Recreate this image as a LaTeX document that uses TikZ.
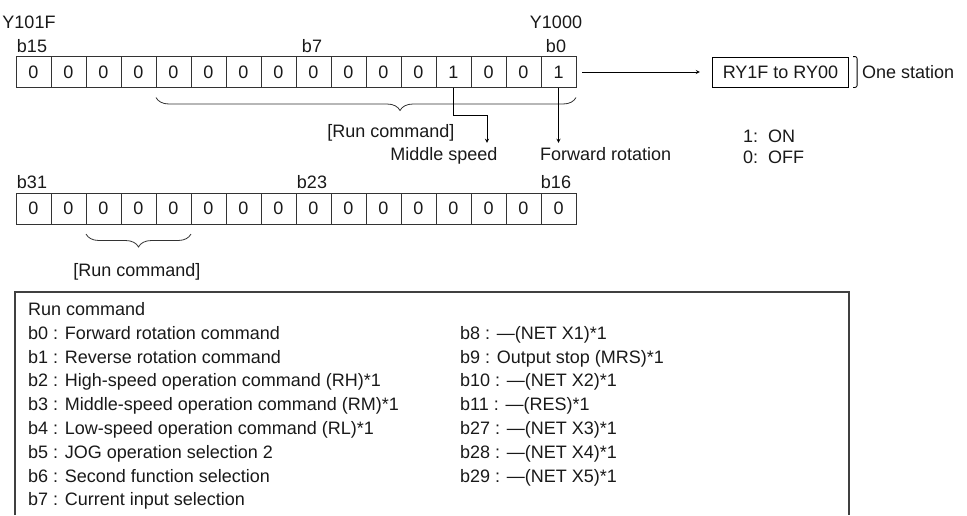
\documentclass[tikz,border=0pt]{standalone}
\usepackage{fontspec}
\setmainfont{Liberation Sans}
\usetikzlibrary{decorations.pathreplacing}
\tikzset{>=stealth,
  cell/.style={draw=black!80, line width=0.8pt, minimum width=35pt, minimum height=31pt, inner sep=0pt, outer sep=0pt},
  lbl/.style={inner sep=0pt, anchor=base},
  brc/.style={decorate, line width=0.8pt, draw=black!80}}

\begin{document}
\begin{tikzpicture}[x=1pt,y=-1pt,font=\fontsize{18}{22}\selectfont,text=black!90]
\useasboundingbox (0,0) rectangle (967,515);
\foreach \v [count=\i from 0] in {0,0,0,0,0,0,0,0,0,0,0,0,1,0,0,1}
  \node[cell] (t\i) at (33.5+35*\i,72) {\v};
\foreach \i in {0,...,15}
  \node[cell] (u\i) at (33.5+35*\i,208.5) {0};
\node[lbl] (yhi) at (29,28) {Y101F};
\node[lbl] (ylo) at (556,28) {Y1000};
\node[lbl] (b15) at (32,52) {b15};
\node[lbl] (b7) at (312,52) {b7};
\node[lbl] (b0) at (556,52) {b0};
\node[lbl] (b31) at (32,188) {b31};
\node[lbl] (b23) at (312,188) {b23};
\node[lbl] (b16) at (556,188) {b16};
\draw[brc, decoration={brace, mirror, amplitude=13pt, aspect=0.581}] ([yshift=-10pt]t4.south west) -- ([yshift=-10pt]t15.south east);
\draw[brc, decoration={brace, mirror, amplitude=13pt}] ([yshift=-10pt]u2.south west) -- ([yshift=-10pt]u4.south east);
\node[lbl] (runhi) at (391,137) {[Run command]};
\node[lbl] (runlo) at (137,276) {[Run command]};
\node[lbl] (ms) at (444,160) {Middle speed};
\node[lbl, anchor=base west] (fr) at (540,160) {Forward rotation};
\coordinate (mk) at (487,115);
\draw[->, line width=0.8pt] (t12.south) |- (mk) -- ([yshift=4pt]ms.north -| mk);
\draw[->, line width=0.8pt] (t15.south) -- ([yshift=4pt]fr.north -| t15.south);
\node[draw, line width=0.8pt, inner sep=0pt, inner xsep=10.5pt, minimum height=30pt] (ry) at (780.5,72) {RY1F to RY00};
\draw[->, line width=0.8pt] ([xshift=6pt]t15.east) -- ([xshift=-12pt]ry.west);
\draw[line width=0.8pt, rounded corners=2pt] ([xshift=4pt]ry.north east) -| ([xshift=8pt]ry.south east) -- ([xshift=4pt]ry.south east);
\node[lbl, anchor=base west] (one) at (862,78.5) {One station};
\node[lbl, anchor=base west] (on) at (743,142) {1:~~ON};
\node[lbl, anchor=base west] (off) at (743,163) {0:~~OFF};
\draw[line width=1.2pt, draw=black!75] (15,515) |- (849,292) -- (849,515);
\foreach \t [count=\k from 0] in {Run command, b0 : Forward rotation command, b1 : Reverse rotation command, b2 : High-speed operation command (RH)*1, b3 : Middle-speed operation command (RM)*1, b4 : Low-speed operation command (RL)*1, b5 : JOG operation selection 2, b6 : Second function selection, b7 : Current input selection}
  \node[lbl, anchor=base west] (cmd\k) at (28,315.5+23.8*\k) {\t};
\foreach \t [count=\k from 1] in {b8 : —(NET X1)*1, b9 : Output stop (MRS)*1, b10 : —(NET X2)*1, b11 : —(RES)*1, b27 : —(NET X3)*1, b28 : —(NET X4)*1, b29 : —(NET X5)*1}
  \node[lbl, anchor=base west] (net\k) at (460,315.5+23.8*\k) {\t};
\end{tikzpicture}
\end{document}
